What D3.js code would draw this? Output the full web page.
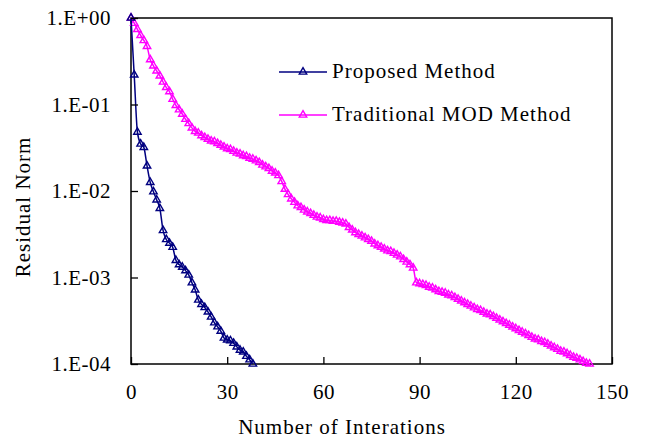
<!DOCTYPE html>
<html>
<head>
<meta charset="utf-8">
<script src="https://cdn.jsdelivr.net/npm/d3@7"></script>
<style>
  body { margin: 0; background: #fff; }
  text { font-family: "Liberation Serif", "Times New Roman", serif; }
</style>
</head>
<body>
<svg id="chart"></svg>
<script>
var w = 646;
var h = 443;
var padLeft = 131, padRight = 612, padTop = 18, padBottom = 364;

// residual norm per iteration
var proposed = [1, 0.22, 0.048, 0.035, 0.032, 0.0195, 0.0126, 0.0098, 0.0079, 0.0063,
  0.0035, 0.00275, 0.0025, 0.00224, 0.00158, 0.00141, 0.00132, 0.0012, 0.00107, 0.00087,
  0.00072, 0.00055, 0.00049, 0.00045, 0.0004, 0.00035, 0.0003, 0.00027, 0.00024, 0.0002,
  0.00019, 0.000186, 0.000174, 0.000158, 0.000145, 0.000138, 0.000123, 0.000112, 0.0001];

var traditional = [1, 0.87, 0.74, 0.63, 0.55, 0.47, 0.33, 0.28, 0.245, 0.214,
  0.182, 0.158, 0.141, 0.115, 0.0977, 0.0871, 0.0776, 0.0676, 0.0603, 0.0537,
  0.049, 0.0468, 0.0437, 0.0417, 0.0398, 0.038, 0.0372, 0.0355, 0.0339, 0.0324,
  0.0309, 0.0302, 0.0288, 0.0275, 0.0269, 0.0257, 0.0251, 0.024, 0.0234, 0.0224,
  0.0214, 0.02, 0.0191, 0.0182, 0.017, 0.0162, 0.0151, 0.0129, 0.0105, 0.00912,
  0.00813, 0.00741, 0.00676, 0.00646, 0.00603, 0.00575, 0.0055, 0.00525, 0.00501, 0.0049,
  0.00468, 0.00457, 0.00457, 0.00447, 0.00447, 0.00437, 0.00427, 0.00417, 0.0038, 0.00355,
  0.00331, 0.00316, 0.00302, 0.00288, 0.00275, 0.00263, 0.00245, 0.00234, 0.00224, 0.00214,
  0.00204, 0.002, 0.00191, 0.00182, 0.00174, 0.00162, 0.00151, 0.00141, 0.00129, 0.000871,
  0.000851, 0.000832, 0.000813, 0.000776, 0.000759, 0.000724, 0.000692, 0.000676, 0.000661, 0.000631,
  0.000617, 0.000589, 0.000562, 0.000537, 0.000513, 0.00049, 0.000468, 0.000447, 0.000427, 0.000417,
  0.000398, 0.00038, 0.000372, 0.000355, 0.000339, 0.000324, 0.000309, 0.000295, 0.000282, 0.000269,
  0.000257, 0.000245, 0.000234, 0.000224, 0.000214, 0.000204, 0.000195, 0.000191, 0.000182, 0.000178,
  0.00017, 0.000162, 0.000155, 0.000148, 0.000141, 0.000138, 0.000132, 0.000126, 0.00012, 0.000117,
  0.000112, 0.000107, 0.000102, 0.0001];

var xTicks = [0, 30, 60, 90, 120, 150];
var yTicks = [1, 0.1, 0.01, 0.001, 0.0001];
var yTickLabels = ["1.E+00", "1.E-01", "1.E-02", "1.E-03", "1.E-04"];

var seriesNames = ["Proposed Method", "Traditional MOD Method"];
var seriesColors = ["#000080", "#ff00ff"];

var xScale = d3.scaleLinear().domain([0, 150]).range([padLeft, padRight]);
var yScale = d3.scaleLog().domain([0.0001, 1]).range([padBottom, padTop]);

var svg = d3.select("#chart")
  .attr("width", w)
  .attr("height", h);

var tri = d3.symbol().type(d3.symbolTriangle).size(24);

var line = d3.line()
  .x(function(d, i){ return xScale(i); })
  .y(function(d){ return yScale(d); })
  .curve(d3.curveMonotoneX);

// frame
svg.append("rect")
  .attr("x", padLeft)
  .attr("y", padTop)
  .attr("width", padRight - padLeft)
  .attr("height", padBottom - padTop)
  .attr("fill", "none")
  .attr("stroke", "#000")
  .attr("stroke-width", 1.5);

// draw traditional first, proposed on top
[[traditional, 1], [proposed, 0]].forEach(function(s){
  var data = s[0], c = seriesColors[s[1]];
  svg.append("path")
    .datum(data)
    .attr("d", line)
    .attr("fill", "none")
    .attr("stroke", c)
    .attr("stroke-width", 1.5);
  svg.append("g").selectAll("path")
    .data(data)
    .enter()
    .append("path")
    .attr("d", tri)
    .attr("transform", function(d, i){
      return "translate(" + xScale(i) + "," + yScale(d) + ")";
    })
    .attr("fill", "none")
    .attr("stroke", c)
    .attr("stroke-width", 1.4);
});

var xAxis = d3.axisBottom(xScale)
  .tickValues(xTicks)
  .tickSize(-7)
  .tickPadding(20)
  .tickFormat(d3.format("d"));

var yAxis = d3.axisLeft(yScale)
  .tickValues(yTicks)
  .tickSize(-7)
  .tickPadding(20)
  .tickFormat(function(d, i){ return yTickLabels[i]; });

var gx = svg.append("g")
  .attr("transform", "translate(0," + padBottom + ")")
  .call(xAxis);
var gy = svg.append("g")
  .attr("transform", "translate(" + padLeft + ",0)")
  .call(yAxis);

[gx, gy].forEach(function(g){
  g.select(".domain").remove();
  g.selectAll(".tick line").attr("stroke", "#000").attr("stroke-width", 1.3);
  g.selectAll(".tick text")
    .attr("font-family", "Liberation Serif")
    .attr("font-size", "21px")
    .attr("fill", "#000")
    .style("letter-spacing", "0.5px");
});

svg.append("text")
  .attr("x", 342)
  .attr("y", 434)
  .attr("text-anchor", "middle")
  .attr("font-size", "21px")
  .style("letter-spacing", "1px")
  .text("Number of Interations");

svg.append("text")
  .attr("transform", "translate(30,207) rotate(-90)")
  .attr("text-anchor", "middle")
  .attr("font-size", "21px")
  .style("letter-spacing", "1px")
  .text("Residual Norm");

// legend
var legendY = [72, 115];
var lg = svg.append("g").selectAll("g")
  .data(seriesNames)
  .enter()
  .append("g")
  .attr("transform", function(d, i){ return "translate(279," + legendY[i] + ")"; });

lg.append("line")
  .attr("x1", 0).attr("x2", 48)
  .attr("stroke", function(d, i){ return seriesColors[i]; })
  .attr("stroke-width", 1.5);
lg.append("path")
  .attr("d", tri)
  .attr("transform", "translate(24,0)")
  .attr("fill", "none")
  .attr("stroke", function(d, i){ return seriesColors[i]; })
  .attr("stroke-width", 1.4);
lg.append("text")
  .attr("x", 53)
  .attr("y", 6)
  .attr("font-size", "21px")
  .style("letter-spacing", "1px")
  .text(function(d){ return d; });
</script>
</body>
</html>
